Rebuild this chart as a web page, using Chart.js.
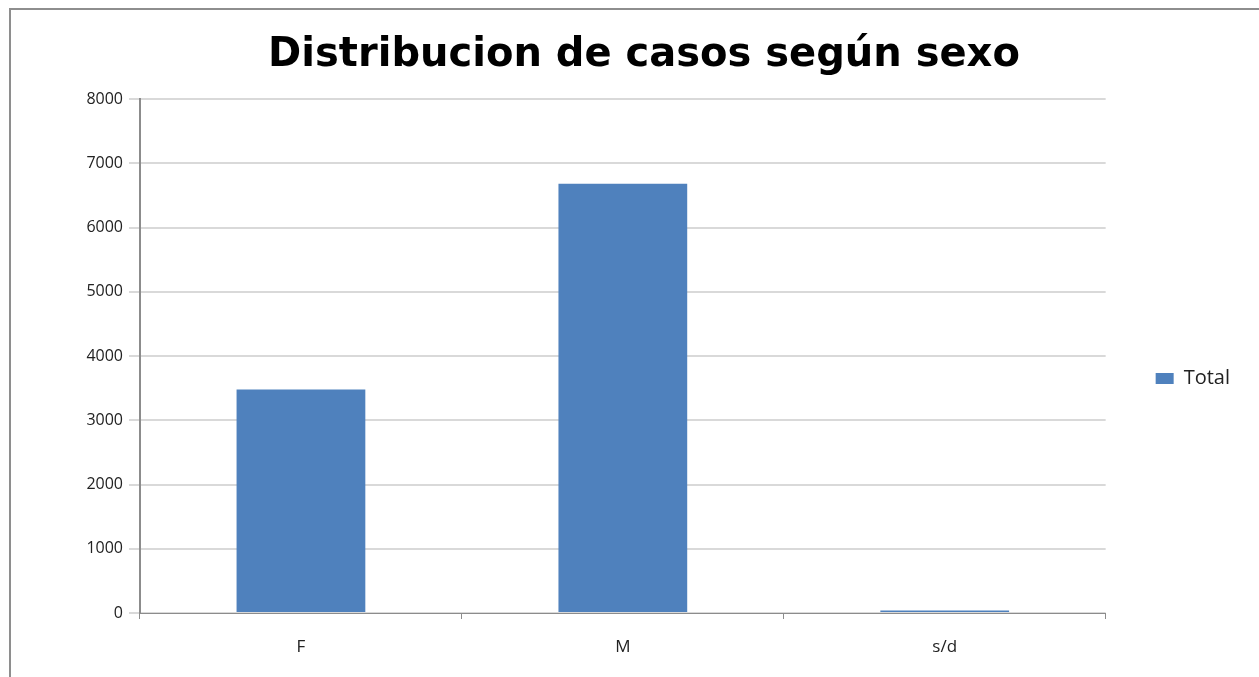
<!DOCTYPE html>
<html>
<head>
<meta charset="utf-8">
<script src="https://cdn.jsdelivr.net/npm/chart.js@4/dist/chart.umd.min.js"></script>
<style>
  html, body { margin: 0; padding: 0; background: #fff; }
  #wrap { position: relative; width: 1259px; height: 677px; }
  #frame { position: absolute; left: 9px; top: 8px; right: -4px; bottom: -4px; border-left: 2px solid #8e8e8e; border-top: 2px solid #8e8e8e; pointer-events: none; }
  canvas { position: absolute; left: 0; top: 0; }
</style>
</head>
<body>
<div id="wrap">
  <canvas id="chart" width="1259" height="677"></canvas>
  <div id="frame"></div>
</div>
<script>
// data
const categories = ["F", "M", "s/d"];
const totals = [3480, 6680, 40];
const seriesName = "Total";
const chartTitle = "Distribucion de casos según sexo";

// nudge legend down so it sits level with the middle of the plot
const legendShift = {
  id: "legendShift",
  afterLayout(chart) {
    const lg = chart.legend;
    lg.top += 40;
    lg.bottom += 40;
  }
};

const ctx = document.getElementById("chart");
new Chart(ctx, {
  type: "bar",
  data: {
    labels: categories,
    datasets: [{
      label: seriesName,
      data: totals,
      backgroundColor: "#4f81bd",
      borderWidth: 0,
      barPercentage: 0.4,
      categoryPercentage: 1.0
    }]
  },
  options: {
    responsive: false,
    animation: false,
    layout: { padding: { top: 0, right: 19, bottom: 0, left: 48 } },
    plugins: {
      title: {
        display: true,
        text: chartTitle,
        color: "#000",
        font: { family: "DejaVu Sans", size: 40, weight: "bold" },
        padding: { top: 32, bottom: 19 }
      },
      legend: {
        position: "right",
        labels: {
          boxWidth: 18,
          boxHeight: 11,
          padding: 50,
          color: "#222",
          font: { family: "Open Sans", size: 20 }
        }
      },
      tooltip: { enabled: false }
    },
    scales: {
      x: {
        afterFit: s => { s.height = 64; },
        grid: { display: true, drawOnChartArea: false, tickLength: 6, color: "#8c8c8c" },
        border: { color: "#8c8c8c", width: 1 },
        ticks: { color: "#222", padding: 18, font: { family: "Open Sans", size: 17 } }
      },
      y: {
        min: 0,
        max: 8000,
        afterFit: s => { s.width = 92; },
        ticks: {
          stepSize: 1000,
          color: "#222",
          padding: 6,
          font: { family: "Open Sans", size: 16 },
          callback: v => String(v)
        },
        grid: { color: "#d9d9d9", tickLength: 11, lineWidth: 2 },
        border: { color: "#8c8c8c", width: 2 }
      }
    }
  },
  plugins: [legendShift]
});
</script>
</body>
</html>
